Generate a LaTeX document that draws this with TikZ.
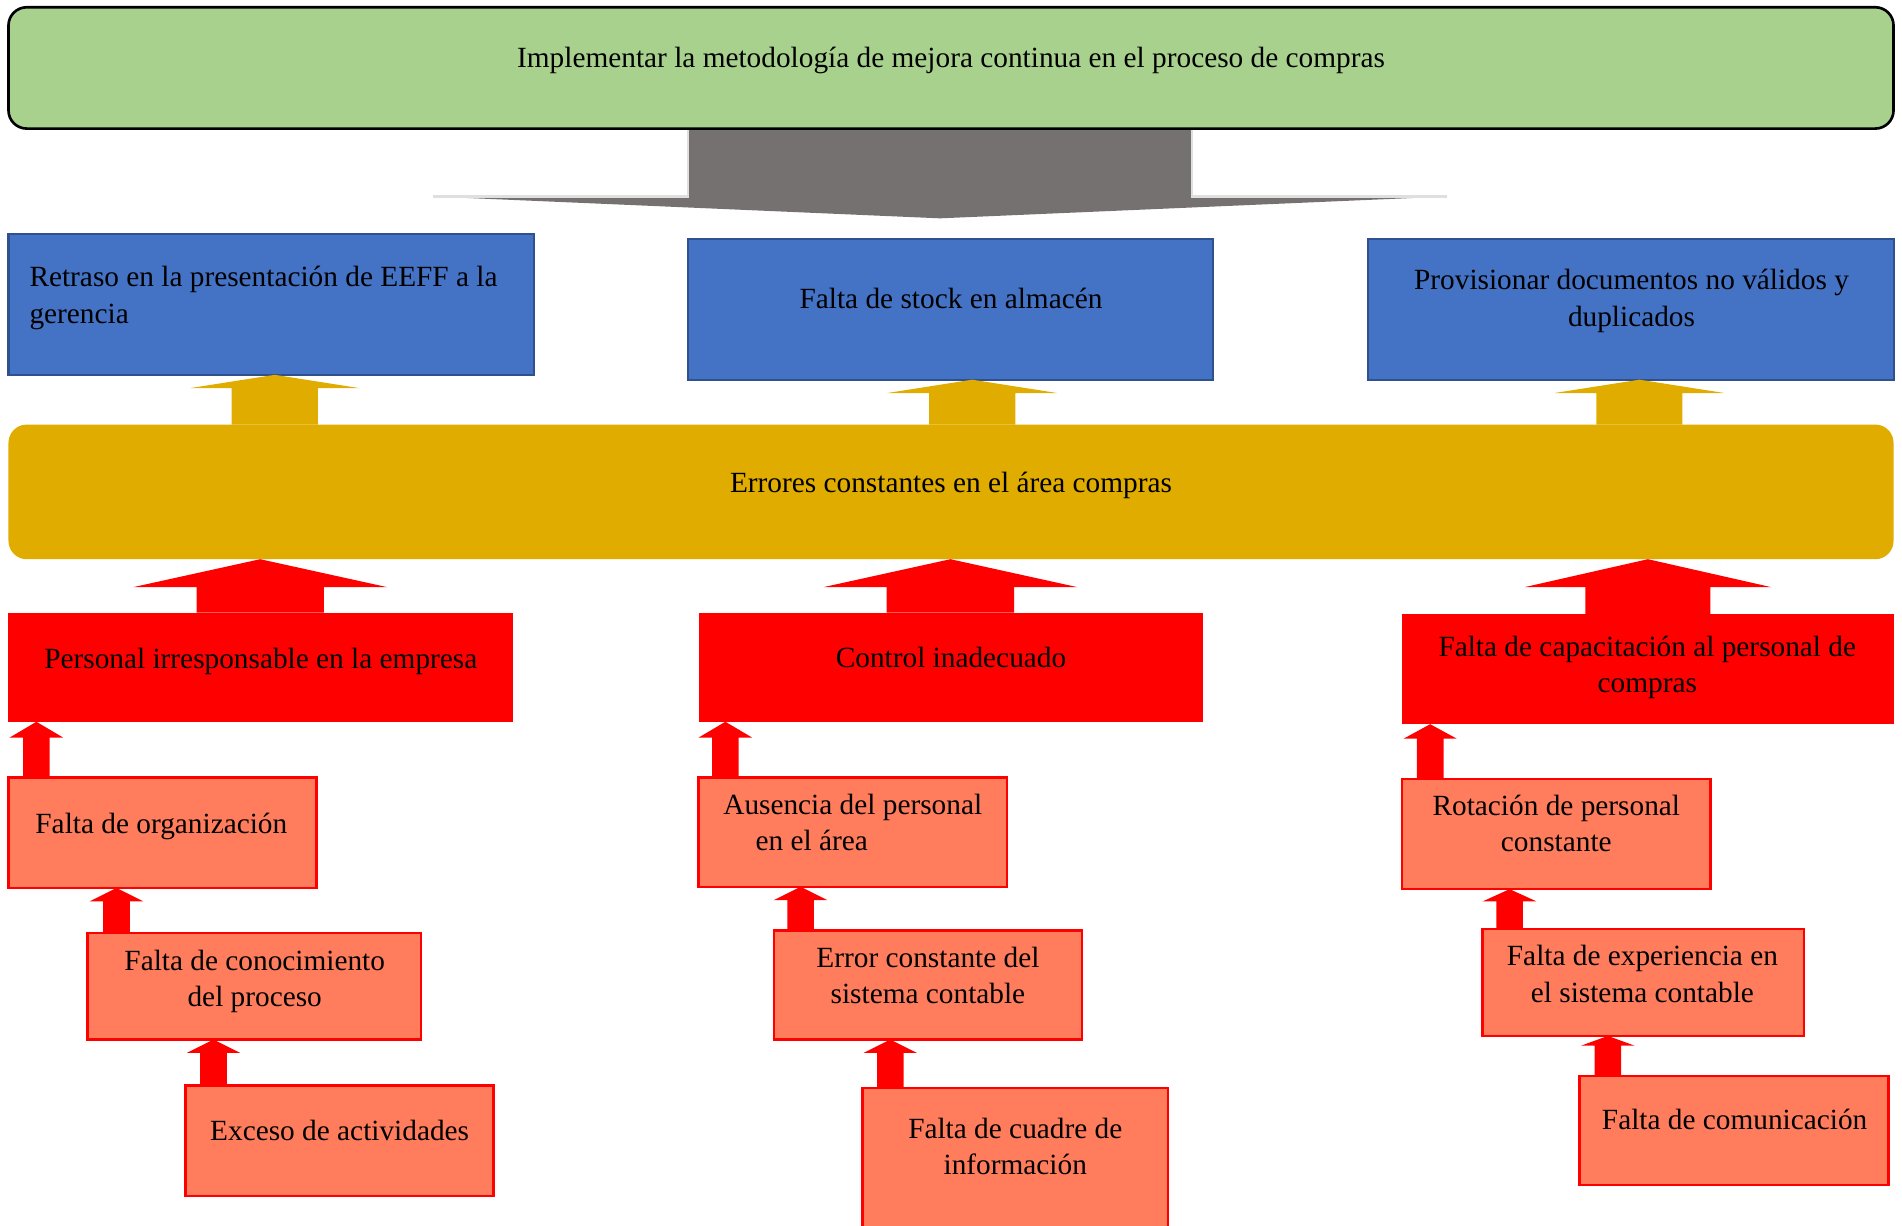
\documentclass[tikz,border=0pt]{standalone}
\usepackage{fontspec}
\setmainfont{Liberation Serif}
\usetikzlibrary{calc,backgrounds}

\definecolor{goalgreen}{RGB}{169,209,142}
\definecolor{arrowgrey}{RGB}{118,113,113}
\definecolor{effectblue}{RGB}{68,114,196}
\definecolor{effectedge}{RGB}{47,82,143}
\definecolor{problemgold}{RGB}{224,172,0}
\definecolor{causered}{RGB}{255,0,0}
\definecolor{subcause}{RGB}{255,124,92}

% a box given by its corners (x1,y1) (x2,y2)
\newcommand\panel[6]{%
  \node[#2, minimum width={(#5-#3)*0.6pt}, minimum height={(#6-#4)*0.6pt}]
    (#1) at ({(#3+#5)/2},{(#4+#6)/2}) {};}

% upward block arrow from the top of one box to the bottom of another
% #1 fill, #2 lower node, #3 upper node, #4 x, #5 half shaft, #6 half head, #7 head length
\newcommand\blockup[7]{%
  \coordinate (ab) at (#4,0 |- #2.north);
  \coordinate (at) at (#4,0 |- #3.south);
  \fill[#1] ($(ab)+(-#5,0)$) -- ($(at)+(-#5,#7)$) -- ($(at)+(-#6,#7)$) -- (at)
    -- ($(at)+(#6,#7)$) -- ($(at)+(#5,#7)$) -- ($(ab)+(#5,0)$) -- cycle;}

\tikzset{
  txt/.style={font=\fontsize{14.5pt}{18pt}\selectfont, inner sep=0pt, align=center},
  goalbox/.style={draw=black, line width=1.3pt, fill=goalgreen, rounded corners=9pt, inner sep=0pt, outer sep=0pt},
  effectbox/.style={draw=effectedge, line width=1pt, fill=effectblue, inner sep=0pt, outer sep=0pt},
  problembox/.style={fill=problemgold, rounded corners=9pt, inner sep=0pt, outer sep=0pt},
  causebox/.style={fill=causered, inner sep=0pt, outer sep=0pt},
  subbox/.style={draw=causered, line width=1.2pt, fill=subcause, inner sep=0pt, outer sep=0pt},
}

\begin{document}
\begin{tikzpicture}[x=0.6pt,y=-0.6pt]
\clip (0,0) rectangle (1568,1010);

% objective
\panel{goal}{goalbox}{7}{6}{1561}{106}
\node[txt] at (784,50) {Implementar la metodología de mejora continua en el proceso de compras};

% wide grey arrow under the objective
\begin{scope}[on background layer]
  \coordinate (gb) at (775,0 |- goal.south);
  \coordinate (gt) at (775,180);
  \fill[arrowgrey] ($(gb)+(-208,-2)$) -- ($(gt)+(-208,-18)$) -- ($(gt)+(-418,-18)$) -- (gt)
    -- ($(gt)+(418,-18)$) -- ($(gt)+(208,-18)$) -- ($(gb)+(208,-2)$) -- cycle;
  \draw[gray!25, line width=1pt] ($(gb)+(-208,0)$) -- ($(gt)+(-208,-18)$) -- ($(gt)+(-418,-18)$);
  \draw[gray!25, line width=1pt] ($(gb)+(208,0)$) -- ($(gt)+(208,-18)$) -- ($(gt)+(418,-18)$);
\end{scope}

% effects
\panel{eff1}{effectbox}{7}{193}{440}{309}
\panel{eff2}{effectbox}{567}{197}{1000}{313}
\panel{eff3}{effectbox}{1128}{197}{1561}{313}
\node[txt, align=left, anchor=west] at (24,245.5) {Retraso en la presentación de EEFF a la\\gerencia};
\node[txt] at (784,246) {Falta de stock en almacén};
\node[txt] at (1345,248) {Provisionar documentos no válidos y\\duplicados};

% central problem
\panel{prob}{problembox}{7}{350}{1561}{461}
\node[txt] at (784,400) {Errores constantes en el área compras};

\blockup{problemgold}{prob}{eff1}{226.5}{35.5}{70}{11}
\blockup{problemgold}{prob}{eff2}{801.5}{35.5}{70}{11}
\blockup{problemgold}{prob}{eff3}{1351.5}{35.5}{70}{11}

% main causes
\panel{cause1}{causebox}{7}{505}{423}{595}
\panel{cause2}{causebox}{576}{505}{992}{595}
\panel{cause3}{causebox}{1156}{506}{1561}{597}
\node[txt] at (215,545) {Personal irresponsable en la empresa};
\node[txt] at (784,542) {Control inadecuado};
\node[txt] at (1358,550) {Falta de capacitación al personal de\\compras};

\blockup{causered}{cause1}{prob}{214.5}{52.5}{104.5}{23}
\blockup{causered}{cause2}{prob}{783.5}{52.5}{104.5}{23}
\blockup{causered}{cause3}{prob}{1358.5}{51.5}{101.5}{23}

% secondary causes, left
\panel{l1}{subbox}{7}{641}{261}{732}
\panel{l2}{subbox}{72}{769}{347}{857}
\panel{l3}{subbox}{153}{895}{407}{986}
\node[txt] at (133,681) {Falta de organización};
\node[txt] at (210,809) {Falta de conocimiento\\del proceso};
\node[txt] at (280,932) {Exceso de actividades};
\blockup{causered}{l1}{cause1}{30}{11}{22}{13}
\blockup{causered}{l2}{l1}{96}{11}{22}{11}
\blockup{causered}{l3}{l2}{176}{11}{22}{11}

% secondary causes, middle
\panel{m1}{subbox}{576}{641}{830}{731}
\panel{m2}{subbox}{638}{767}{892}{857}
\panel{m3}{subbox}{711}{897}{963}{1040}
\node[txt, align=left] at (703,678) {Ausencia del personal\\\hspace*{16pt}en el área};
\node[txt] at (765,804) {Error constante del\\sistema contable};
\node[txt] at (837,945) {Falta de cuadre de\\información};
\blockup{causered}{m1}{cause2}{598}{11}{22}{13}
\blockup{causered}{m2}{m1}{660}{11}{22}{11}
\blockup{causered}{m3}{m2}{734}{11}{22}{11}

% secondary causes, right
\panel{r1}{subbox}{1156}{642}{1410}{733}
\panel{r2}{subbox}{1222}{766}{1487}{854}
\panel{r3}{subbox}{1302}{887}{1557}{977}
\node[txt] at (1283,679) {Rotación de personal\\constante};
\node[txt] at (1354,803) {Falta de experiencia en\\el sistema contable};
\node[txt] at (1430,923) {Falta de comunicación};
\blockup{causered}{r1}{cause3}{1179}{11}{22}{12}
\blockup{causered}{r2}{r1}{1244.5}{11}{22}{10}
\blockup{causered}{r3}{r2}{1325.5}{11}{22}{8}
\end{tikzpicture}
\end{document}
